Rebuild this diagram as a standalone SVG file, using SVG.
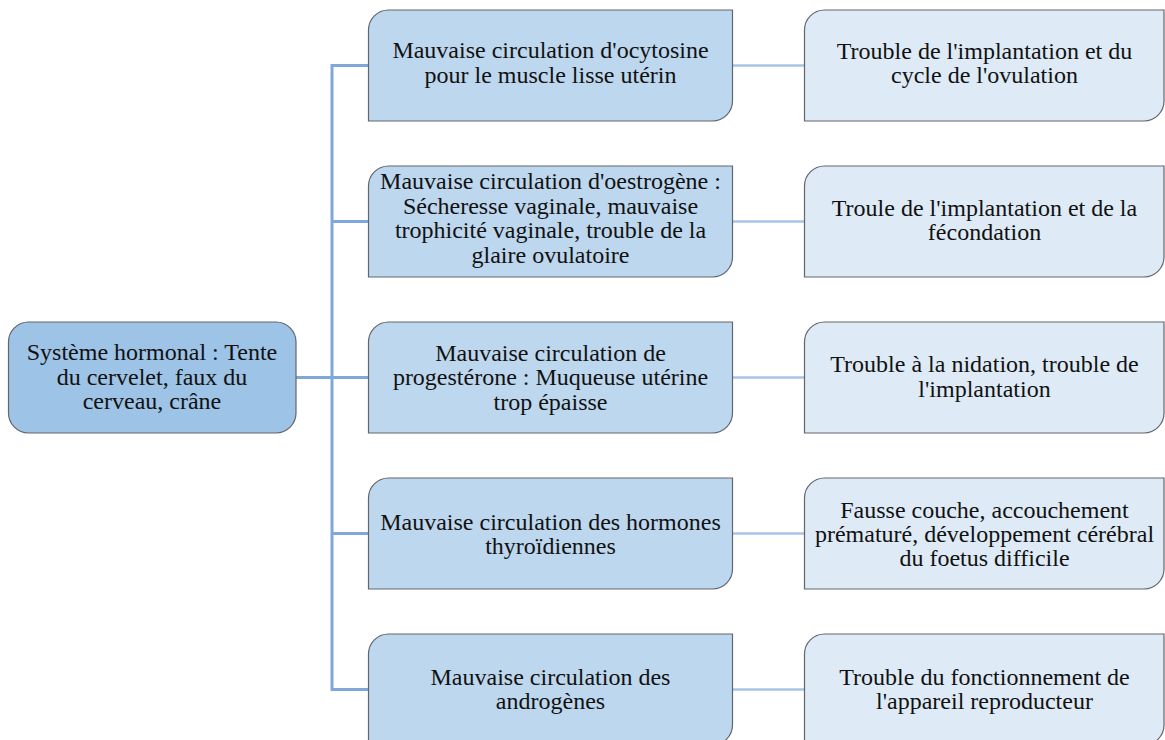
<svg xmlns="http://www.w3.org/2000/svg" width="1165" height="740" viewBox="0 0 1165 740">
<style>
.t{font-family:"Liberation Serif","Times New Roman",serif;font-size:24px;fill:#111;text-anchor:middle}
.root{fill:#9dc3e6;stroke:#62666c;stroke-width:1.2}
.mid{fill:#bdd7ee;stroke:#62666c;stroke-width:1.2}
.res{fill:#deebf7;stroke:#62666c;stroke-width:1.2}
.c1{fill:none;stroke:#7ea8da;stroke-width:3}
.c2{fill:none;stroke:#a8c4e6;stroke-width:2.5}
</style>
<rect width="1165" height="740" fill="#fff"/>
<g id="connectors">
<path class="c1" d="M296 377.5 H332 M368.5 65.5 H332 V689.5 H368.5 M332 221.5 H368.5 M332 377.5 H368.5 M332 533.5 H368.5"/>
<path class="c2" d="M732.5 65.5 H804.5 M732.5 221.5 H804.5 M732.5 377.5 H804.5 M732.5 533.5 H804.5 M732.5 689.5 H804.5"/>
</g>
<g id="root">
<rect class="root" x="8.5" y="322" width="287.5" height="111" rx="20" ry="20"/>
<text class="t"><tspan x="152" y="360">Système hormonal : Tente</tspan><tspan x="152" y="384.5">du cervelet, faux du</tspan><tspan x="152" y="409">cerveau, crâne</tspan></text>
</g>
<g id="m1">
<path class="mid" d="M368.5 30 A20 20 0 0 1 388.5 10 H732.5 V101 A20 20 0 0 1 712.5 121 H368.5 Z"/>
<text class="t"><tspan x="550.5" y="58">Mauvaise circulation d'ocytosine</tspan><tspan x="550.5" y="82.5">pour le muscle lisse utérin</tspan></text>
</g>
<g id="m2">
<path class="mid" d="M368.5 186 A20 20 0 0 1 388.5 166 H732.5 V257 A20 20 0 0 1 712.5 277 H368.5 Z"/>
<text class="t"><tspan x="550.5" y="189">Mauvaise circulation d'oestrogène :</tspan><tspan x="550.5" y="213.5">Sécheresse vaginale, mauvaise</tspan><tspan x="550.5" y="238">trophicité vaginale, trouble de la</tspan><tspan x="550.5" y="262.5">glaire ovulatoire</tspan></text>
</g>
<g id="m3">
<path class="mid" d="M368.5 342 A20 20 0 0 1 388.5 322 H732.5 V413 A20 20 0 0 1 712.5 433 H368.5 Z"/>
<text class="t"><tspan x="550.5" y="360.5">Mauvaise circulation de</tspan><tspan x="550.5" y="385">progestérone : Muqueuse utérine</tspan><tspan x="550.5" y="409.5">trop épaisse</tspan></text>
</g>
<g id="m4">
<path class="mid" d="M368.5 498 A20 20 0 0 1 388.5 478 H732.5 V569 A20 20 0 0 1 712.5 589 H368.5 Z"/>
<text class="t"><tspan x="550.5" y="530">Mauvaise circulation des hormones</tspan><tspan x="550.5" y="554">thyroïdiennes</tspan></text>
</g>
<g id="m5">
<path class="mid" d="M368.5 654 A20 20 0 0 1 388.5 634 H732.5 V725 A20 20 0 0 1 712.5 745 H368.5 Z"/>
<text class="t"><tspan x="550.5" y="684.5">Mauvaise circulation des</tspan><tspan x="550.5" y="708.5">androgènes</tspan></text>
</g>
<g id="r1">
<path class="res" d="M804.5 30 A20 20 0 0 1 824.5 10 H1164 V101 A20 20 0 0 1 1144 121 H804.5 Z"/>
<text class="t"><tspan x="984.5" y="58.5">Trouble de l'implantation et du</tspan><tspan x="984.5" y="83">cycle de l'ovulation</tspan></text>
</g>
<g id="r2">
<path class="res" d="M804.5 186 A20 20 0 0 1 824.5 166 H1164 V257 A20 20 0 0 1 1144 277 H804.5 Z"/>
<text class="t"><tspan x="984.5" y="215.5">Troule de l'implantation et de la</tspan><tspan x="984.5" y="240">fécondation</tspan></text>
</g>
<g id="r3">
<path class="res" d="M804.5 342 A20 20 0 0 1 824.5 322 H1164 V413 A20 20 0 0 1 1144 433 H804.5 Z"/>
<text class="t"><tspan x="984.5" y="372">Trouble à la nidation, trouble de</tspan><tspan x="984.5" y="396.5">l'implantation</tspan></text>
</g>
<g id="r4">
<path class="res" d="M804.5 498 A20 20 0 0 1 824.5 478 H1164 V569 A20 20 0 0 1 1144 589 H804.5 Z"/>
<text class="t"><tspan x="984.5" y="517.5">Fausse couche, accouchement</tspan><tspan x="984.5" y="541.5">prématuré, développement cérébral</tspan><tspan x="984.5" y="565.5">du foetus difficile</tspan></text>
</g>
<g id="r5">
<path class="res" d="M804.5 654 A20 20 0 0 1 824.5 634 H1164 V725 A20 20 0 0 1 1144 745 H804.5 Z"/>
<text class="t"><tspan x="984.5" y="684.5">Trouble du fonctionnement de</tspan><tspan x="984.5" y="708.5">l'appareil reproducteur</tspan></text>
</g>
</svg>
